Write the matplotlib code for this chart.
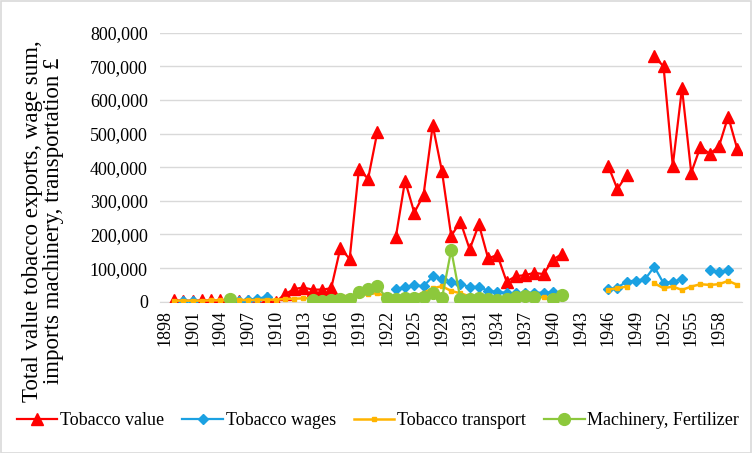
import numpy as np
import matplotlib
matplotlib.use('Agg')
import matplotlib.pyplot as plt
from matplotlib.patches import Rectangle
from matplotlib.ticker import FuncFormatter

plt.rcParams['font.family'] = ['Liberation Serif', 'DejaVu Serif']

years = np.arange(1898, 1961)
tick_years = list(range(1898, 1961, 3))
N = None

# values in pounds, one entry per year 1898-1960 (None = no data)
tobacco_value = [
    N, 4000, 3000, 3000, 4000, 4000, 4000, 3000, 3000, 3000,             # 1898-1907
    3000, 12000, 0, 22000, 38000, 42000, 36000, 36000, 40000, 160000,     # 1908-1917
    127000, 394000, 366000, 505000, N, 192000, 360000, 265000, 317000, 525000,  # 1918-1927
    388000, 196000, 238000, 156000, 230000, 129000, 139000, 60000, 76000, 79000,  # 1928-1937
    86000, 82000, 125000, 142000, N, N, N, N, 405000, 335000,             # 1938-1947
    377000, N, N, 731000, 700000, 405000, 635000, 384000, 461000, 440000,  # 1948-1957
    462000, 551000, 453000,                                              # 1958-1960
]
tobacco_wages = [
    N, N, 2000, 2000, N, N, N, N, 3000, 6000,
    9000, 14000, N, N, N, N, N, N, N, N,
    N, N, N, N, N, 37000, 44000, 49000, 46000, 75000,
    68000, 60000, 54000, 43000, 45000, 32000, 30000, 26000, 25000, 26000,
    27000, 27000, 28000, N, N, N, N, N, 37000, 42000,
    60000, 63000, 67000, 104000, 55000, 60000, 67000, N, N, 94000,
    89000, 94000, N,
]
tobacco_transport = [
    N, 3000, 3000, 3000, 3000, 4000, 4000, 4000, 5000, 5000,
    5000, 6000, 6000, 8000, 9000, 10000, 11000, 12000, 14000, 16000,
    18000, 20000, 22000, 26000, 14000, 13000, 16000, 18000, 26000, 40000,
    46000, 32000, 25000, 16000, 15000, 12000, 10000, 10000, 12000, 13000,
    15000, 13000, 10000, 10000, N, N, N, N, 36000, 40000,
    45000, N, N, 55000, 40000, 45000, 35000, 45000, 52000, 50000,
    52000, 62000, 50000,
]
machinery = [
    N, N, N, N, N, N, N, 8000, N, N,
    N, N, N, N, N, N, 5000, 2000, 5000, 8000,
    8000, 30000, 37000, 47000, 10000, 9000, 10000, 12000, 15000, 25000,
    10000, 154000, 8000, 8000, 10000, 8000, 5000, 8000, 13000, 18000,
    15000, N, 8000, 20000, N, N, N, N, N, N,
    N, N, N, N, N, N, N, N, N, N,
    N, N, N,
]

def arr(v):
    return np.array([np.nan if x is None else x for x in v], dtype=float)

fig = plt.figure(figsize=(7.53, 4.53), dpi=100)
ax = fig.add_axes([0.213, 0.334, 0.7724, 0.5934])

ax.plot(years, arr(tobacco_value), color='#FF0000', lw=1.6, marker='^', ms=8,
        label='Tobacco value', zorder=3)
ax.plot(years, arr(tobacco_wages), color='#1BA1E2', lw=1.6, marker='D', ms=5.5,
        label='Tobacco wages', zorder=4)
ax.plot(years, arr(tobacco_transport), color='#FFB400', lw=1.8, marker='s', ms=3,
        label='Tobacco transport', zorder=5)
ax.plot(years, arr(machinery), color='#8CC83C', lw=1.6, marker='o', ms=8.5,
        label='Machinery, Fertilizer', zorder=6)

ax.set_xlim(1897.5, 1960.5)
ax.set_ylim(0, 800000)
ax.set_yticks(np.arange(0, 800001, 100000))
ax.yaxis.set_major_formatter(FuncFormatter(lambda v, p: f'{int(v):,}'))
ax.set_xticks(tick_years)
ax.set_xticklabels([str(y) for y in tick_years], rotation=90)
ax.tick_params(axis='both', length=0, labelsize=13, colors='black')
ax.tick_params(axis='y', pad=9)
ax.tick_params(axis='x', pad=6)

ax.grid(axis='y', color='#D9D9D9', lw=1)
ax.set_axisbelow(True)
for s in ['top', 'right', 'left']:
    ax.spines[s].set_visible(False)
ax.spines['bottom'].set_color('#D9D9D9')
ax.spines['bottom'].set_zorder(1)

fig.text(0.057, 0.512, 'Total value tobacco exports, wage sum,\nimports machinery, transportation £',
         rotation=90, ha='center', va='center', multialignment='center', fontsize=16.5,
         linespacing=1.0)

fig.legend(loc='center', bbox_to_anchor=(0.502, 0.071), ncol=4, frameon=False,
           fontsize=13, handlelength=2.25, handletextpad=0.15, columnspacing=1.0,
           numpoints=1)

fig.patches.append(Rectangle((0.001, 0.001), 0.997, 0.997, transform=fig.transFigure,
                             fill=False, edgecolor='#D9D9D9', lw=1.2))

fig.savefig('out.png', dpi=100)
